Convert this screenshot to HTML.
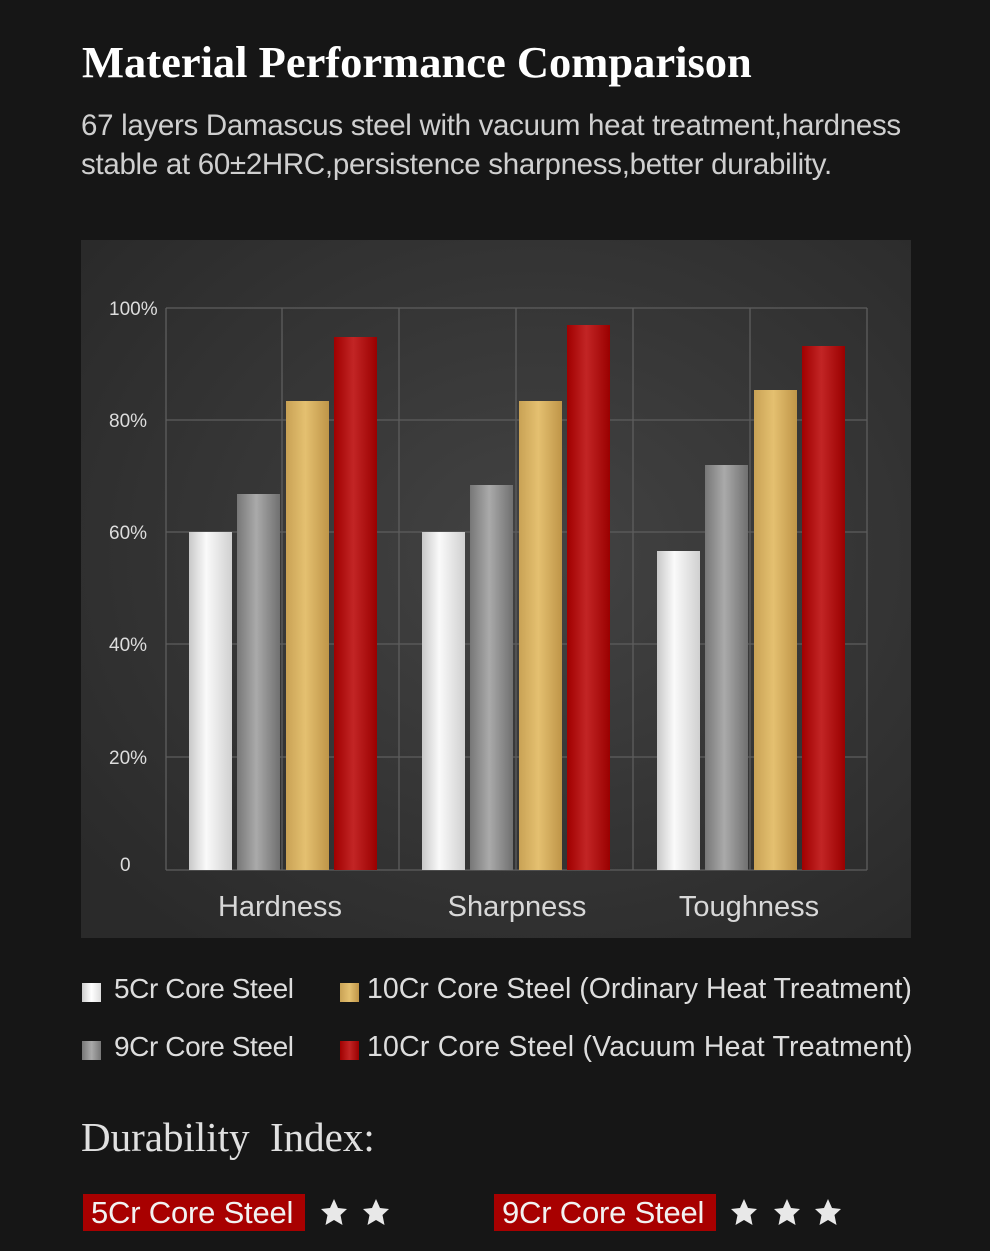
<!DOCTYPE html><html><head><style>
body{margin:0;width:990px;height:1251px;background:#161616;position:relative;overflow:hidden;font-family:"Liberation Sans",sans-serif;color:#ddd}
.a{position:absolute;white-space:nowrap}
.sq{position:absolute;width:19px;height:19px}
.tag{position:absolute;background:#a80000;color:#f2f2f2;font-size:31px;height:37px;line-height:37px;padding:0 8px;box-sizing:border-box;letter-spacing:-0.2px;overflow:hidden}
</style></head><body>
<div class="a" style="left:82px;top:36px;font-family:'Liberation Serif',serif;font-weight:bold;font-size:44.5px;color:#fff">Material Performance Comparison</div>
<div class="a" style="left:81px;top:106px;font-size:29.5px;line-height:39px;color:#cfcfcf;letter-spacing:-0.3px">67 layers Damascus steel with vacuum heat treatment,hardness<br>stable at 60±2HRC,persistence sharpness,better durability.</div>
<svg class="a" style="left:0;top:0" width="990" height="1251">
<defs>
<radialGradient id="bg" cx="0.55" cy="0.45" r="0.7"><stop offset="0" stop-color="#434343"/><stop offset="1" stop-color="#2a2a2a"/></radialGradient>
<linearGradient id="w"><stop offset="0" stop-color="#c8c8c8"/><stop offset="0.4" stop-color="#fafafa"/><stop offset="1" stop-color="#d0d0d0"/></linearGradient>
<linearGradient id="g"><stop offset="0" stop-color="#777"/><stop offset="0.45" stop-color="#aaa"/><stop offset="1" stop-color="#707070"/></linearGradient>
<linearGradient id="y"><stop offset="0" stop-color="#c9a255"/><stop offset="0.45" stop-color="#e4c070"/><stop offset="1" stop-color="#bf9548"/></linearGradient>
<linearGradient id="r"><stop offset="0" stop-color="#a00000"/><stop offset="0.45" stop-color="#c22525"/><stop offset="1" stop-color="#9a0000"/></linearGradient>
</defs>
<rect x="81" y="240" width="830" height="698" fill="url(#bg)"/>
<g stroke="#5e5e5e" stroke-width="1.3" fill="none">
<line x1="166" y1="308" x2="867" y2="308"/><line x1="166" y1="420" x2="867" y2="420"/><line x1="166" y1="532" x2="867" y2="532"/><line x1="166" y1="644" x2="867" y2="644"/><line x1="166" y1="757" x2="867" y2="757"/><line x1="166" y1="870" x2="867" y2="870"/>
<line x1="166" y1="308" x2="166" y2="870"/><line x1="282" y1="308" x2="282" y2="870"/><line x1="399" y1="308" x2="399" y2="870"/><line x1="516" y1="308" x2="516" y2="870"/><line x1="633" y1="308" x2="633" y2="870"/><line x1="750" y1="308" x2="750" y2="870"/><line x1="867" y1="308" x2="867" y2="870"/>
</g>
<g>
<rect x="189" y="532" width="43" height="338" fill="url(#w)"/><rect x="237" y="494" width="43" height="376" fill="url(#g)"/><rect x="286" y="401" width="43" height="469" fill="url(#y)"/><rect x="334" y="337" width="43" height="533" fill="url(#r)"/>
<rect x="422" y="532" width="43" height="338" fill="url(#w)"/><rect x="470" y="485" width="43" height="385" fill="url(#g)"/><rect x="519" y="401" width="43" height="469" fill="url(#y)"/><rect x="567" y="325" width="43" height="545" fill="url(#r)"/>
<rect x="657" y="551" width="43" height="319" fill="url(#w)"/><rect x="705" y="465" width="43" height="405" fill="url(#g)"/><rect x="754" y="390" width="43" height="480" fill="url(#y)"/><rect x="802" y="346" width="43" height="524" fill="url(#r)"/>
</g>
<g font-family="Liberation Sans,sans-serif" font-size="19" fill="#ddd">
<text x="109" y="315">100%</text><text x="109" y="427">80%</text><text x="109" y="539">60%</text><text x="109" y="651">40%</text><text x="109" y="764">20%</text><text x="120" y="871">0</text>
</g>
<g font-family="Liberation Sans,sans-serif" font-size="29" fill="#d8d8d8" text-anchor="middle">
<text x="280" y="916">Hardness</text><text x="517" y="916">Sharpness</text><text x="749" y="916">Toughness</text>
</g>
<g fill="#e8e8e8"><polygon id="s" points="334,1199 338,1208 347,1209 340.5,1215 342.5,1225 334,1220 325.5,1225 327.5,1215 321,1209 330,1208"/>
<use href="#s" x="42"/><use href="#s" x="410"/><use href="#s" x="453"/><use href="#s" x="494"/></g>
</svg>
<div class="sq" style="left:82px;top:983px;background:linear-gradient(90deg,#ccc,#fff,#ddd)"></div>
<div class="sq" style="left:82px;top:1041px;background:linear-gradient(90deg,#777,#aaa,#777)"></div>
<div class="sq" style="left:340px;top:983px;background:linear-gradient(90deg,#c9a255,#e4c070,#bf9548)"></div>
<div class="sq" style="left:340px;top:1041px;background:linear-gradient(90deg,#a00000,#c22525,#9a0000)"></div>
<div class="a" style="left:114px;top:973px;font-size:28px;color:#ddd;letter-spacing:-0.4px">5Cr Core Steel</div>
<div class="a" style="left:114px;top:1031px;font-size:28px;color:#ddd;letter-spacing:-0.4px">9Cr Core Steel</div>
<div class="a" style="left:367px;top:973px;font-size:28.5px;color:#ddd">10Cr Core Steel (Ordinary Heat Treatment)</div>
<div class="a" style="left:367px;top:1031px;font-size:28.5px;color:#ddd;letter-spacing:0.2px">10Cr Core Steel (Vacuum Heat Treatment)</div>
<div class="a" style="left:81px;top:1113px;font-family:'Liberation Serif',serif;font-size:41px;color:#e0e0e0">Durability&nbsp; Index:</div>
<div class="tag" style="left:83px;top:1194px;width:222px">5Cr Core Steel</div>
<div class="tag" style="left:494px;top:1194px;width:222px">9Cr Core Steel</div>
</body></html>
